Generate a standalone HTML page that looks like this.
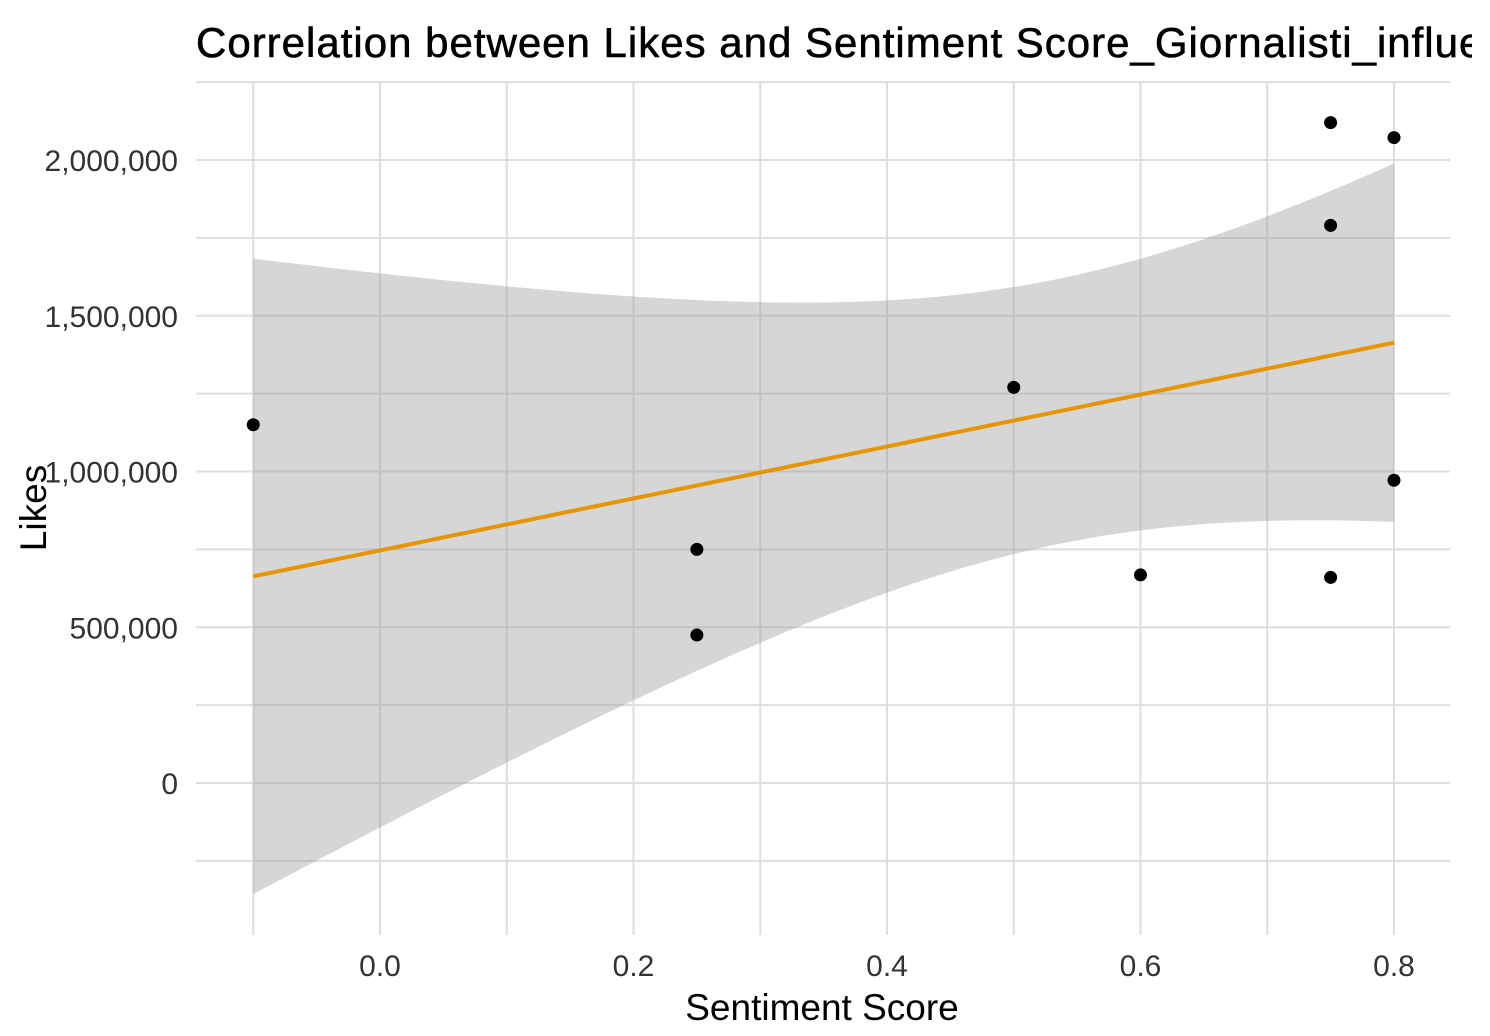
<!DOCTYPE html>
<html><head><meta charset="utf-8"><style>
body{margin:0;background:#fff}
svg{display:block;font-family:"Liberation Sans",sans-serif}
</style></head><body>
<svg id="chart" width="1490" height="1036" viewBox="0 0 1490 1036">
<text x="196" y="57" font-size="42" letter-spacing="1" fill="#000" stroke="#000" stroke-width="0.6">Correlation between Likes and Sentiment Score_Giornalisti_influencer</text>
<rect x="1472" y="0" width="18" height="78" fill="#fff"/>
<g id="grid"></g>
<g id="band"></g>
<g id="line"></g>
<g id="pts"></g>
<g id="axes"></g>
<text x="822" y="1020" font-size="37" text-anchor="middle" fill="#000">Sentiment Score</text>
<text transform="translate(46,508) rotate(-90)" font-size="37" text-anchor="middle" fill="#000">Likes</text>
</svg>
<script>
const xs = [-0.1, 0.25, 0.25, 0.5, 0.6, 0.75, 0.75, 0.75, 0.8, 0.8];
const ys = [1150000, 750000, 475000, 1270000, 668000, 2120000, 1790000, 660000, 2072000, 972000];
const xTicks = [0.0, 0.2, 0.4, 0.6, 0.8];
const xTickLabels = ["0.0", "0.2", "0.4", "0.6", "0.8"];
const yTicks = [0, 500000, 1000000, 1500000, 2000000];
const yTickLabels = ["0", "500,000", "1,000,000", "1,500,000", "2,000,000"];
const tCrit = 2.306;

const X = v => 380 + (v - 0) * 1267.5;
const Y = v => 783 - v * 0.0003115;
const L = 196, R = 1450, T = 81, B = 935;
const NS = "http://www.w3.org/2000/svg";
function mk(tag, attrs, parent){const e=document.createElementNS(NS,tag);for(const k in attrs)e.setAttribute(k,attrs[k]);parent.appendChild(e);return e;}
const grid=document.getElementById('grid'), band=document.getElementById('band'), line=document.getElementById('line'), pts=document.getElementById('pts'), axes=document.getElementById('axes');

for(let v=-0.1; v<=0.85; v+=0.1){const x=X(v); if(x<L||x>R) continue;
  const g=mk('line',{x1:x,x2:x,y1:T,y2:B,stroke:'#dedede','stroke-width':2},grid);
  
  }
for(let v=-250000; v<=2300000; v+=250000){const y=Y(v); if(y<T||y>B) continue;
  const g=mk('line',{x1:L,x2:R,y1:y,y2:y,stroke:'#dedede','stroke-width':2},grid);
  
  }

const n=xs.length, mx=xs.reduce((a,b)=>a+b)/n, my=ys.reduce((a,b)=>a+b)/n;
let sxx=0,sxy=0; for(let i=0;i<n;i++){sxx+=(xs[i]-mx)**2;sxy+=(xs[i]-mx)*(ys[i]-my);}
const b1=sxy/sxx, b0=my-b1*mx;
let sse=0; for(let i=0;i<n;i++) sse+=(ys[i]-b0-b1*xs[i])**2;
const s=Math.sqrt(sse/(n-2));
const xmin=Math.min(...xs), xmax=Math.max(...xs);
let up=[],lo=[],mid=[];
for(let k=0;k<=80;k++){const x=xmin+(xmax-xmin)*k/80, yh=b0+b1*x, se=s*Math.sqrt(1/n+(x-mx)**2/sxx);
  up.push(X(x)+','+Y(yh+tCrit*se)); lo.push(X(x)+','+Y(yh-tCrit*se)); mid.push(X(x)+','+Y(yh));}
const bp=mk('polygon',{points:up.concat(lo.reverse()).join(' '),fill:'rgba(153,153,153,0.4)'},band);


const lp=mk('polyline',{points:mid.join(' '),fill:'none',stroke:'#e69500','stroke-width':4},line);



for(let i=0;i<n;i++){const c=mk('circle',{cx:X(xs[i]),cy:Y(ys[i]),r:6.5,fill:'#000'},pts);
  
  }

xTicks.forEach((v,i)=>{const t=mk('text',{x:X(v),y:976,'font-size':30,'text-anchor':'middle',fill:'#333'},axes);t.textContent=xTickLabels[i];
  
  });
yTicks.forEach((v,i)=>{const t=mk('text',{x:178,y:Y(v)+11,'font-size':30,'text-anchor':'end',fill:'#333'},axes);t.textContent=yTickLabels[i];
  
  });
</script>
</body></html>
